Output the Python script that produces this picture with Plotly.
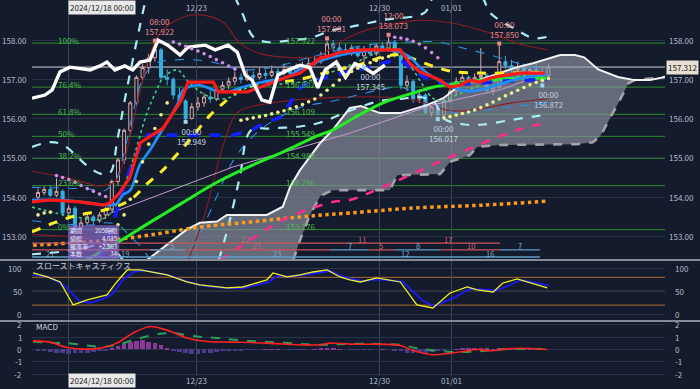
import plotly.graph_objects as go

BG = "#141b2d"
FONT = "Noto Sans CJK JP, Noto Sans, sans-serif"
AX = "#b4bccb"

# ---------------- candles (4h bars) ----------------
bars = list(range(84))
opens = [154.00,154.12,154.20,154.05,154.15,153.60,153.72,153.22,153.35,153.50,
         153.40,153.55,153.70,154.40,154.95,155.70,156.40,157.05,157.30,157.55,
         157.75,157.05,157.00,156.60,156.45,156.00,156.30,156.40,156.55,156.50,
         156.75,156.85,156.95,157.05,157.00,157.10,157.05,157.15,157.10,157.20,
         157.15,157.25,157.15,157.30,157.35,157.40,157.45,157.55,157.90,157.80,
         157.75,157.70,157.80,157.60,157.75,157.65,157.85,157.75,157.95,157.60,
         156.85,156.95,156.50,156.60,156.15,156.30,156.10,156.45,156.70,156.95,
         157.05,156.95,157.05,157.10,156.72,156.80,157.45,157.35,157.25,157.30,
         157.15,157.25,157.20,157.10]
highs = [154.22,154.28,154.30,154.48,154.20,153.80,153.78,153.45,153.58,153.55,
         153.62,153.75,154.45,155.00,155.75,156.45,157.10,157.40,157.65,157.922,
         157.80,157.25,157.05,156.80,156.50,156.40,156.55,156.65,156.70,156.85,
         156.95,157.05,157.20,157.15,157.25,157.20,157.30,157.25,157.35,157.30,
         157.40,157.35,157.40,157.45,157.55,157.60,157.70,157.981,158.00,157.95,
         157.90,157.88,157.85,157.85,157.90,157.90,157.95,158.073,158.00,157.65,
         157.10,157.00,156.75,156.65,156.40,156.35,156.50,156.75,157.05,157.15,
         157.10,157.15,157.80,157.15,156.90,157.850,157.60,157.50,157.45,157.40,
         157.35,157.40,157.30,157.40]
lows = [153.95,154.05,154.00,154.00,153.52,153.50,153.15,153.18,153.30,153.30,
        153.35,153.45,153.65,154.30,154.85,155.55,156.30,156.90,157.15,157.45,
        157.00,156.85,156.50,156.35,155.949,155.98,156.20,156.30,156.40,156.45,
        156.65,156.75,156.85,156.90,156.95,156.95,157.00,157.00,157.05,157.05,
        157.10,157.10,157.10,157.20,157.25,157.35,157.40,157.50,157.70,157.65,
        157.60,157.60,157.55,157.345,157.60,157.60,157.70,157.70,157.55,156.75,
        156.70,156.40,156.40,156.10,156.05,156.017,156.05,156.40,156.60,156.85,
        156.85,156.90,157.00,156.65,156.60,156.75,157.25,157.15,157.10,157.05,
        157.05,157.10,156.872,157.05]
closes = [154.12,154.20,154.05,154.15,153.60,153.72,153.22,153.35,153.50,153.40,
          153.55,153.70,154.40,154.95,155.70,156.40,157.05,157.30,157.55,157.75,
          157.05,157.00,156.60,156.45,156.00,156.30,156.40,156.55,156.50,156.75,
          156.85,156.95,157.05,157.00,157.10,157.05,157.15,157.10,157.20,157.15,
          157.25,157.15,157.30,157.35,157.40,157.45,157.55,157.90,157.80,157.75,
          157.70,157.80,157.60,157.75,157.65,157.85,157.75,157.95,157.60,156.85,
          156.95,156.50,156.60,156.15,156.30,156.10,156.45,156.70,156.95,157.05,
          156.95,157.05,157.10,156.72,156.80,157.45,157.35,157.25,157.30,157.15,
          157.25,157.20,157.10,157.312]

# ---------------- overlay lines (bar, price) ----------------
chikou_x = [-0.98,1.14,2.3,3.58,5.2,8.46,10.08,11.2,12.5,14.1,15.4,16.6,18.2,19.5,21.1,23.1,24.4,27.2,28.8,30.9,32.4,33.7,34.8,36.4,37.7,39.0,40.7,42.6,44.2,45.5,46.7,48.5,50.0,51.5,53.0,54.5,56.4]
chikou_y = [156.52,156.60,156.73,157.19,157.31,157.24,157.34,157.44,157.24,157.34,157.24,157.44,157.49,158.0,157.87,157.62,157.82,157.87,157.75,157.87,157.69,157.11,156.98,156.47,156.42,157.11,157.24,157.36,157.30,156.78,157.24,157.44,157.05,157.40,157.30,157.15,157.36]

red_x = [-0.98,1.95,6.8,10.6,11.7,12.7,13.3,14.96,16.6,18.2,20.3,21.5,23.3,24.4,28.5,29.3,34.0,36.1,38.2,40.5,42.6,45.9,47.5,49.1,52.4,58.9,60.5,62.1,65.4,67.0,68.6,70.2,71.9,73.5,75.1,78.4,82.4]
red_y = [153.88,153.93,153.88,153.80,153.85,154.01,154.12,154.52,155.38,155.55,155.75,156.04,156.47,156.93,156.93,156.68,156.68,156.80,156.93,157.06,157.16,157.54,157.60,157.69,157.75,157.75,157.40,157.19,156.98,156.80,156.85,156.98,156.93,157.03,157.08,157.16,157.16]

blue_x = [-0.98,4.1,8.5,11.2,12.8,13.8,15.0,16.6,18.2,19.8,21.5,23.0,23.6,26.3,28.5,30.7,32.8,35.6,38.2,40.5,42.6,47.8,53.5,58.4,60.5,62.1,64.2,67.0,69.8,72.4,75.1,77.9,80.5,82.8]
blue_y = [153.93,153.93,153.85,153.80,153.84,154.06,154.18,154.84,155.20,155.61,156.04,156.47,156.73,156.85,156.73,156.68,156.78,156.90,156.98,157.06,157.26,157.56,157.72,157.72,157.56,157.31,157.06,156.83,156.70,156.75,156.88,157.01,157.08,157.13]

dblue_x = [10.1,11.9,13.3,14.96,16.6,17.8,31.6,34.8,36.9,39.6,41.3,42.6,44.2,47.5,50.7,53.8,57.9,59.5,61.1,63.4,65.9,68.6,71.9,75.1,78.4,82.8]
dblue_y = [152.45,153.17,153.93,154.70,155.28,155.58,155.58,155.71,155.90,156.04,156.47,156.78,156.93,157.08,157.21,157.29,157.49,157.44,157.21,157.00,156.90,156.88,156.90,156.95,156.98,157.00]

yellow_x = [-0.98,5.2,11.7,14.96,17.8,20.3,21.5,24.7,28.0,30.7,32.8,36.1,39.3,42.6,47.5,52.4,56.4,58.9,63.7,67.0,71.9,76.7,82.4]
yellow_y = [153.12,153.49,153.71,153.93,154.35,154.69,154.90,155.46,156.09,156.47,156.73,156.90,156.93,157.00,157.20,157.38,157.59,157.62,157.36,157.21,157.16,157.16,157.18]

green_x = [7.8,12.9,18.2,23.6,29.1,34.5,39.8,45.4,47.9,50.7,56.1,61.6,64.2,68.1,72.4,77.9,82.8]
green_y = [152.40,152.85,153.36,153.87,154.38,154.79,155.15,155.56,155.71,155.96,156.40,156.68,156.80,156.90,156.98,157.03,157.03]

magenta_x = [29.6,34.5,39.8,47.9,50.7,56.1,67.0,77.9,82.8]
magenta_y = [152.40,152.91,153.42,153.88,153.93,154.26,155.02,155.71,155.90]

orange_x = [-0.8,11.7,18.2,26.3,34.5,42.6,50.7,61.6,72.4,82.8]
orange_y = [152.78,152.91,153.04,153.24,153.37,153.50,153.60,153.73,153.80,153.90]

plum_x = [11.7,31.7,50.7,64.2,75.1,82.8]
plum_y = [153.59,154.77,155.63,156.35,156.73,157.16]

gdot_x = [-0.98,6,10.5,12.5,14.5,16.1,17.7,19.3,20.3,22.6,24.5,27.2,29.5,31.7,34.0,37.2,41.0,44.7,48.0,50.7,58.4,60.5,62.6,64.2,65.9,68.1,70.7,75.1,79.5,82.8]
gdot_y = [153.75,153.5,153.45,153.75,154.5,155.3,156.14,156.73,157.03,157.24,156.93,156.6,156.5,156.57,156.78,156.85,156.9,156.98,157.2,157.36,157.8,157.36,156.85,156.52,156.44,156.6,156.78,156.98,157.11,157.2]

# Bollinger-type bands
cyan_up1_x = [-0.98,2.0,4.1,8.0,10.1,11.7,12.9,14.1,15.4,16.6,17.6]
cyan_up1_y = [155.28,155.40,155.33,154.80,154.60,154.62,155.46,156.47,157.49,158.38,159.10]
cyan_up2_x = [32.0,33.2,35.0,37.2,41.5,44.2,47.9,50.7,56.1,62.8,64.5,72.0,73.5,77.9,80.5,82.8]
cyan_up2_y = [159.10,158.69,158.08,157.95,158.00,158.05,158.25,158.33,158.51,158.69,159.10,159.10,158.69,158.25,158.05,158.08]
cyan_lo1_x = [-0.98,4.1,8.5,11.0,12.5,13.8]
cyan_lo1_y = [152.55,152.62,152.75,152.82,152.65,152.40]
cyan_lo2_x = [29.4,31.0,32.8,34.6,37.7,42.6,45.9,50.7,55.6,58.9,62.1,64.5,66.0,69.4,72.4,76.7,80.5,82.8]
cyan_lo2_y = [152.40,153.30,154.50,155.70,155.75,155.80,155.90,156.20,156.45,156.50,156.55,156.40,156.00,155.85,155.85,155.96,156.05,156.10]

dred_up_x = [-0.98,4.9,10.1,12.5,14.1,16.0,17.6,19.5,22.5,26.3,30.2,32.8,36.1,41.5,45.9,48.5,52.4,56.1,61.7,67.0,73.5,77.9,82.8]
dred_up_y = [154.66,154.49,154.29,154.40,155.00,156.30,157.30,158.10,158.51,158.64,158.44,157.92,157.66,157.55,157.60,157.90,158.20,158.35,158.50,158.44,158.18,157.92,157.75]
dred_lo1_x = [-0.98,4.9,8.9,10.5,12.5]
dred_lo1_y = [153.05,153.00,152.91,152.70,152.40]
dred_lo2_x = [24.4,27.0,29.5,31.7,33.0,41.5,50.7,55.6,60.0,64.0,67.0,72.0,77.0,82.8]
dred_lo2_y = [152.40,153.50,155.00,156.00,156.22,156.47,156.55,156.55,156.50,156.35,156.20,156.25,156.40,156.50]

tblue_up_x = [-0.98,8.5,10.5,12.5,14.1,15.5,17.0,19.0,23.1,28,32.8,38,44,50.7,56,61,65,69,73.5,79,82.8]
tblue_up_y = [154.25,154.20,154.15,154.40,155.20,156.20,157.00,157.40,157.50,157.45,157.25,157.30,157.55,157.80,157.92,157.95,157.95,157.80,157.62,157.36,157.20]
tblue_lo_x = [-0.98,6,9,11,13,15,17,18.5,23,26,29,32,36,40,43,48,52,56,59,62,65,68,72,77,82.8]
tblue_lo_y = [153.40,153.30,153.30,153.35,153.30,153.00,152.70,152.40,152.40,153.00,154.00,155.00,155.70,156.10,156.30,156.45,156.60,156.75,156.80,156.60,156.30,156.15,156.20,156.30,156.40]

# Ichimoku cloud spans
spanA_x = [17.7,24.1,26.3,29.1,30.7,37.2,39.8,41.0,42.6,45.9,47.9,50.7,52.5,55.6,58.9,63.3,65.9,68.6,73.0,77.9,80.5,84.9,85.7,87.3,88.8,91.1,94.3,97.0,99.5,101.95]
spanA_y = [152.40,153.17,153.35,153.38,153.55,153.55,153.76,154.27,154.69,155.38,155.71,156.27,156.32,156.14,156.14,156.35,156.52,156.85,157.05,157.31,157.41,157.62,157.62,157.62,157.56,157.25,157.06,156.98,156.98,157.06]
spanB_x = [41.5,42.6,44.2,45.9,47.9,50.7,57.2,58.4,65.4,67.0,70.2,71.4,75.1,87.6,90.2,91.4,93.0,94.6,96.0,97.0,101.95]
spanB_y = [152.40,152.91,153.55,154.03,154.18,154.18,154.18,154.56,154.59,154.90,155.07,155.28,155.33,155.35,155.40,155.55,156.00,156.47,156.90,156.98,157.06]

# Parabolic SAR
sar_up_x = [0,1,2] + list(range(12, 22)) + list(range(33, 58)) + list(range(66, 84))
sar_up_y = [153.55,153.60,153.62,
            153.15,153.30,153.55,153.95,154.40,154.90,155.35,155.75,156.10,156.40,
            155.96,155.99,156.02,156.05,156.08,156.12,156.16,156.20,156.25,156.30,156.36,156.43,156.50,
            156.60,156.72,156.85,156.98,157.10,157.20,157.28,157.35,157.42,157.48,157.54,157.58,
            156.02,156.05,156.09,156.13,156.17,156.22,156.28,156.35,156.42,156.50,156.58,156.65,156.72,
            156.79,156.86,156.92,156.97,157.02]
sar_dn_x = list(range(3, 12)) + list(range(22, 33)) + list(range(58, 66))
sar_dn_y = [154.55,154.50,154.45,154.38,154.30,154.22,154.15,154.08,154.02,
            157.95,157.90,157.84,157.78,157.72,157.65,157.58,157.50,157.42,157.34,157.26,
            158.07,158.05,158.02,157.97,157.90,157.80,157.68,157.55]

# Fibonacci retracement
fib_levels = [157.922, 156.802, 156.109, 155.549, 154.989, 154.296, 153.176]
fib_pct = ["100%", "76.4%", "61.8%", "50%", "38.2%", "23.6%", "0%"]
fib_text = ["157.922", "156.802", "156.109", "155.549", "154.989", "154.296", "153.176"]

last_price = 157.312

# high / low labels
hl_x = [19, 24, 47, 57, 53, 65, 75, 82]
hl_price = [157.922, 155.949, 157.981, 158.073, 157.345, 156.017, 157.850, 156.872]
hl_time = ["08:00", "00:00", "00:00", "12:00", "00:00", "00:00", "00:00", "00:00"]
hl_kind = ["H", "L", "H", "H", "L", "L", "H", "L"]

# swing count bars at the bottom of the main panel
seg_x0 = [-0.98, -0.98, 18.2, 47.5, 53.7, 58.0, 65.4, 75.1, -0.98]
seg_x1 = [75.1, 47.5, 23.9, 53.7, 58.0, 65.4, 75.1, 81.6, 81.6]
seg_y = [152.83, 152.66, 152.66, 152.66, 152.66, 152.66, 152.66, 152.66, 152.48]
seg_col = ["r", "r", "b", "b", "r", "b", "r", "b", "b"]
lab_x = [33.7, 52.7, 66.7, 35.6, 21.8, 50.7, 55.8, 61.8, 70.4, 78.4, 1.95, 14.1, 38.9, 59.7, 73.5]
lab_y = [152.93, 152.93, 152.93, 152.76, 152.76, 152.76, 152.76, 152.76, 152.76, 152.76, 152.58, 152.58, 152.58, 152.58, 152.58]
lab_t = ["22", "11", "17", "21", "5", "7", "5", "8", "10", "7", "21", "19", "23", "12", "16"]
lab_c = ["r", "r", "r", "r", "b", "b", "r", "b", "r", "b", "b", "b", "b", "b", "b"]

# ---------------- slow stochastics ----------------
stoch_d_x = [-0.8,1.5,3.6,5.7,8.0,10.1,11.2,12.8,14.5,16.6,21.0,24.2,26.3,30.7,33.3,37.2,38.2,40.5,42.6,44.7,47.0,49.1,50.7,52.4,55.1,58.9,61.6,64.2,67.0,69.8,71.4,74.0,75.6,77.9,80.0,82.8]
stoch_d_y = [89.8,81.1,70.2,20.2,31.1,37.6,42.0,70.2,96.3,96.3,85.4,70.2,63.7,57.2,59.3,74.6,89.8,81.1,85.4,91.9,96.3,81.1,74.6,70.2,78.9,70.2,20.2,13.7,46.3,59.3,52.8,48.5,68.0,76.7,68.0,57.2]
stoch_k_x = [-0.8,2,4.5,6.8,8.5,10.5,12.2,13.8,15.5,17.5,21.5,25,27,30.7,33.5,37.5,39,41,43,45,47.5,50,52.8,55.5,59.3,62.5,64.5,67.5,70.2,72,74.5,76.5,78.4,80.5,83]
stoch_k_y = [86,80,60,28,25,33,45,75,92,95,84,68,62,57,57,70,84,82,85,89,94,80,72,76,71,30,18,35,55,54,52,62,74,70,62]

# ---------------- MACD ----------------
macd_x = [-0.8,1.95,4.7,10.1,12.8,15.4,18.2,19.8,21.95,24.2,27.5,31.7,37.2,42.6,45.9,47.5,50.7,58.9,60.5,64.2,67.0,69.1,71.4,73.5,76.3,78.4,82.8]
macd_y = [0.7,0.6,0.16,0.11,0.52,1.33,1.87,1.74,1.41,0.93,0.65,0.60,0.52,0.38,0.38,0.52,0.44,0.33,0.0,-0.43,-0.3,-0.16,0.0,-0.1,0.05,0.10,0.0]
signal_x = [-0.8,1.95,4.7,10.1,12.8,16.6,19.8,21.95,25.2,29.1,34.5,39.8,45.4,50.7,58.9,61.6,67.0,71.4,75.1,82.8]
signal_y = [0.65,0.55,0.52,0.24,0.38,0.93,1.28,1.33,1.1,0.93,0.70,0.55,0.38,0.46,0.38,0.11,-0.2,-0.16,0.0,0.03]
hist = [-0.05,-0.1,-0.2,-0.25,-0.3,-0.35,-0.3,-0.3,-0.25,-0.2,-0.12,-0.05,
        0.1,0.25,0.45,0.6,0.7,0.75,0.65,0.5,0.35,0.15,
        -0.05,-0.2,-0.3,-0.35,-0.35,-0.3,-0.25,-0.2,-0.15,-0.1,
        -0.05,-0.05,-0.03,-0.03,0.0,0.02,0.03,0.02,0.0,-0.02,-0.03,-0.02,0.0,0.02,0.05,0.08,0.06,0.03,0.0,-0.02,-0.02,-0.03,-0.02,0.0,0.02,0.0,
        -0.05,-0.15,-0.25,-0.3,-0.3,-0.25,-0.2,-0.12,-0.05,0.0,
        0.03,0.05,0.05,0.08,0.06,0.05,0.04,0.05,0.04,0.03,0.02,0.02,0.01,0.0,-0.01,0.0]

# ---------------- axes ----------------
date_ticks = [4.88, 25.7, 55.6, 67.3]
date_labels = ["", "12/23", "12/30", "01/01"]
cross_label = "2024/12/18 00:00"
price_ticks = [153, 154, 155, 156, 157, 158]
stoch_ticks = [0, 50, 100]
macd_ticks = [-2, -1, 0, 1, 2]
XR = [-0.98, 101.95]

# info box
info_k = ["期間", "値幅", "騰落率", "本数"]
info_v = ["205時間", "4.035", "+2.563", "34"]

fig = go.Figure()


def line(x, y, color, width, dash="solid", ax="x", ay="y", shape="linear"):
    fig.add_trace(go.Scatter(x=x, y=y, mode="lines", xaxis=ax, yaxis=ay, hoverinfo="skip",
                             line=dict(color=color, width=width, dash=dash, shape=shape),
                             showlegend=False))


# cloud fill
fig.add_trace(go.Scatter(x=spanA_x + spanB_x[::-1] + [spanA_x[0]],
                         y=spanA_y + spanB_y[::-1] + [spanA_y[0]],
                         fill="toself", fillcolor="rgba(150,155,168,0.62)", mode="none",
                         hoverinfo="skip", showlegend=False))

# bands
line(dred_up_x, dred_up_y, "#8a1c22", 1.1, shape="spline")
line(dred_lo1_x, dred_lo1_y, "#8a1c22", 1.1, shape="spline")
line(dred_lo2_x, dred_lo2_y, "#8a1c22", 1.1, shape="spline")
line(tblue_up_x, tblue_up_y, "#2f8fe0", 1.1, "dash", shape="spline")
line(tblue_lo_x, tblue_lo_y, "#2f8fe0", 1.1, "dash", shape="spline")
line(cyan_up1_x, cyan_up1_y, "#a8ecf5", 2.2, "dash", shape="spline")
line(cyan_up2_x, cyan_up2_y, "#a8ecf5", 2.2, "dash", shape="spline")
line(cyan_lo1_x, cyan_lo1_y, "#a8ecf5", 2.2, "dash", shape="spline")
line(cyan_lo2_x, cyan_lo2_y, "#a8ecf5", 2.2, "dash", shape="spline")
line(plum_x, plum_y, "#c89ad8", 1.0)

# cloud boundaries
line(spanB_x, spanB_y, "#a4a4a8", 2.6, "dash")
line(spanA_x, spanA_y, "#f2f2f2", 2.0)

# long MAs
line(orange_x, orange_y, "#ff9a1a", 3.5, "dot", shape="spline")
line(magenta_x, magenta_y, "#ff2a8a", 2.6, "dash", shape="spline")
line(green_x, green_y, "#22ee22", 3.0, shape="spline")

# candles
fig.add_trace(go.Candlestick(x=bars, open=opens, high=highs, low=lows, close=closes,
                             increasing=dict(line=dict(color="#d8a7a7", width=1), fillcolor=BG),
                             decreasing=dict(line=dict(color="#38aee0", width=1), fillcolor="#38aee0"),
                             whiskerwidth=0, hoverinfo="skip", showlegend=False))

# short MAs
line(gdot_x, gdot_y, "#3ccf8a", 1.6, "dot", shape="spline")
line(yellow_x, yellow_y, "#ffee22", 3.0, "dash", shape="spline")
line(dblue_x, dblue_y, "#1020ff", 3.6, "dash")
line(blue_x, blue_y, "#1e90ff", 2.6, shape="spline")
line(red_x, red_y, "#ff1a1a", 3.2)
line(chikou_x, chikou_y, "#ffffff", 3.4)

# SAR
fig.add_trace(go.Scatter(x=sar_up_x, y=sar_up_y, mode="markers", hoverinfo="skip", showlegend=False,
                         marker=dict(color="#eef08a", size=3.6)))
fig.add_trace(go.Scatter(x=sar_dn_x, y=sar_dn_y, mode="markers", hoverinfo="skip", showlegend=False,
                         marker=dict(color="#d58be8", size=3.6)))

# swing segments
for c, col in (("r", "#c8555a"), ("b", "#5f9ccc")):
    xs, ys = [], []
    for a, b, yy, cc in zip(seg_x0, seg_x1, seg_y, seg_col):
        if cc == c:
            xs += [a, b, None]
            ys += [yy, yy, None]
    line(xs, ys, col, 1.3)

# high/low markers
hx = [x for x, k in zip(hl_x, hl_kind) if k == "H"]
hy = [p + 0.06 for p, k in zip(hl_price, hl_kind) if k == "H"]
lx = [x for x, k in zip(hl_x, hl_kind) if k == "L"]
ly = [p - 0.03 for p, k in zip(hl_price, hl_kind) if k == "L"]
fig.add_trace(go.Scatter(x=hx, y=hy, mode="markers", hoverinfo="skip", showlegend=False,
                         marker=dict(color="#f08a8a", size=4, symbol="square")))
fig.add_trace(go.Scatter(x=lx, y=ly, mode="markers", hoverinfo="skip", showlegend=False,
                         marker=dict(color="#9fd4ee", size=4, symbol="square")))

# stochastics
line(stoch_k_x, stoch_k_y, "#1a1aff", 1.8, ax="x2", ay="y2")
line(stoch_d_x, stoch_d_y, "#f0f020", 1.3, ax="x2", ay="y2")

# MACD
fig.add_trace(go.Bar(x=bars, y=hist, xaxis="x3", yaxis="y3", hoverinfo="skip", showlegend=False,
                     marker=dict(color=["#8a3a96" if v > 0 else "#4a3c86" for v in hist], line=dict(width=0)),
                     width=0.75))
line(signal_x, signal_y, "#2e9e5a", 2.0, "dash", ax="x3", ay="y3", shape="spline")
line(macd_x, macd_y, "#ff2020", 1.6, ax="x3", ay="y3", shape="spline")

# ---------------- shapes ----------------
shapes = []
for lv in fib_levels:
    shapes.append(dict(type="line", xref="paper", yref="y", x0=0, x1=1, y0=lv, y1=lv,
                       line=dict(color="#2a8a2a", width=1), layer="below"))
shapes.append(dict(type="line", xref="paper", yref="y", x0=0, x1=1, y0=last_price, y1=last_price,
                   line=dict(color="#cfd3da", width=1), layer="below"))
for lv in (80, 50, 20):
    shapes.append(dict(type="line", xref="paper", yref="y2", x0=0, x1=1, y0=lv, y1=lv,
                       line=dict(color="#8c5a2a", width=1.2), layer="below"))
for yy in (0.3085, 0.1463):
    shapes.append(dict(type="line", xref="paper", yref="paper", x0=-0.06, x1=1.06, y0=yy, y1=yy,
                       line=dict(color="#a9b0bd", width=1.5)))
shapes.append(dict(type="rect", xref="x", yref="y", x0=4.9, x1=13.2, y0=152.42, y1=153.29,
                   fillcolor="rgba(135,105,200,0.70)", line=dict(width=0)))

# ---------------- annotations ----------------
ann = []
def txt(x, y, s, color=AX, size=8, xref="x", yref="y", xa="center", ya="middle", **kw):
    ann.append(dict(x=x, y=y, text=s, xref=xref, yref=yref, showarrow=False, xanchor=xa, yanchor=ya,
                    font=dict(color=color, size=size, family=FONT), **kw))

for t in price_ticks:
    s = f"{t:.2f}"
    txt(-0.004, t, s, xref="paper", xa="right")
    txt(1.003, t, s, xref="paper", xa="left")
txt(1.002, last_price, f"{last_price:.3f}", color="#1c1c1c", xref="paper", xa="left",
    bgcolor="#e6dfd2", borderpad=1)
for t in stoch_ticks:
    txt(-0.012, t, str(t), yref="y2", xref="paper", xa="right")
    txt(1.012, t, str(t), yref="y2", xref="paper", xa="left")
for t in macd_ticks:
    txt(-0.012, t, str(t), yref="y3", xref="paper", xa="right")
    txt(1.012, t, str(t), yref="y3", xref="paper", xa="left")

for x, s in zip(date_ticks, date_labels):
    if s:
        txt(x, 0.979, s, yref="paper")
        txt(x, -0.011, s, yref="paper")
txt(date_ticks[0], 0.979, cross_label, color="#222", yref="paper", xa="left", bgcolor="#e9e9e9", borderpad=1)
txt(date_ticks[0], -0.011, cross_label, color="#222", yref="paper", xa="left", bgcolor="#e9e9e9", borderpad=1)

for lv, p, s in zip(fib_levels, fib_pct, fib_text):
    txt(3.0, lv, p, color="#4cbb4c", size=8, xa="left", yshift=3)
    txt(40.0, lv, s, color="#4cbb4c", size=8, xa="left", yshift=3)

for x, p, tm, k in zip(hl_x, hl_price, hl_time, hl_kind):
    s = f"{tm}<br>{p:.3f}"
    if k == "H":
        txt(x + 0.8, p + 0.11, s, color="#ec8c8c", size=8, ya="bottom")
    else:
        txt(x + 1.0, p - 0.08, s, color="#c3d3e3", size=8, ya="top")

for x, y, s, c in zip(lab_x, lab_y, lab_t, lab_c):
    txt(x, y, s, color="#d0686c" if c == "r" else "#7aaed6", size=7.5)

# info box text (one block for keys, one for values)
txt(5.0, 152.85, "<br>".join(info_k), color="#f0ecff", size=6, xa="left", align="left", borderpad=0)
txt(13.1, 152.85, "<br>".join(info_v), color="#f0ecff", size=6, xa="right", align="right", borderpad=0)

txt(0.003, 0.293, "スローストキャスティクス", color="#d0d4dc", size=8, xref="paper", yref="paper", xa="left")
txt(0.003, 0.131, "MACD", color="#d0d4dc", size=8, xref="paper", yref="paper", xa="left")

xcommon = dict(range=XR, showticklabels=False, tickvals=date_ticks, showgrid=True,
               gridcolor="#3a4558", gridwidth=1, zeroline=False, showline=False, fixedrange=True)
fig.update_layout(
    width=700, height=389, margin=dict(l=32, r=35, t=0, b=13),
    paper_bgcolor=BG, plot_bgcolor=BG, showlegend=False, bargap=0,
    font=dict(family=FONT, color=AX),
    xaxis=dict(**xcommon, anchor="y", rangeslider=dict(visible=False)),
    xaxis2=dict(**xcommon, anchor="y2", matches="x"),
    xaxis3=dict(**xcommon, anchor="y3", matches="x"),
    yaxis=dict(domain=[0.311, 1], range=[152.427, 159.018], tickvals=price_ticks, showticklabels=False,
               gridcolor="#263145", zeroline=False),
    yaxis2=dict(domain=[0.149, 0.306], range=[-12.4, 115.9], tickvals=stoch_ticks, showticklabels=False,
                gridcolor="#2a3448", zeroline=False),
    yaxis3=dict(domain=[0, 0.1436], range=[-2.16, 2.24], tickvals=macd_ticks, showticklabels=False,
                gridcolor="#2a3448", zeroline=False),
    shapes=shapes, annotations=ann,
)

fig.write_html("out.html", config={"displayModeBar": False},
               post_script="document.body.style.margin='0px';document.body.style.overflow='hidden';")
